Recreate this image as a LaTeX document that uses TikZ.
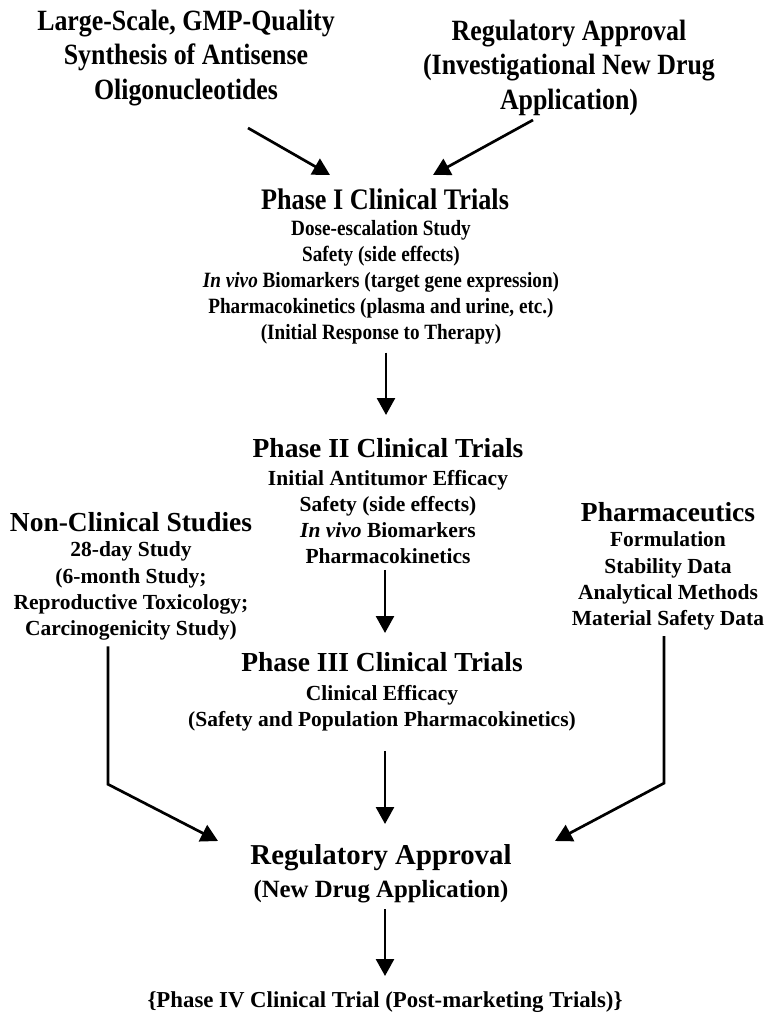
\documentclass[tikz,border=0pt]{standalone}
\usepackage{fontspec}
\setmainfont{Liberation Serif}
\newfontfamily\condensed{Liberation Serif}[FakeStretch=0.88]
\usetikzlibrary{arrows.meta}

\begin{document}
\begin{tikzpicture}[x=1pt,y=-1pt,
  every node/.style={inner sep=0pt,outer sep=0pt,align=center,anchor=north},
  toptext/.style={font=\condensed\fontsize{29.4}{34.5}\selectfont\bfseries},
  title/.style={font=\fontsize{27.5}{34}\selectfont\bfseries},
  body/.style={font=\fontsize{21.5}{26.2}\selectfont\bfseries},
  condtitle/.style={font=\condensed\fontsize{29.8}{34}\selectfont\bfseries},
  condbody/.style={font=\condensed\fontsize{21.8}{26.2}\selectfont\bfseries},
  flow/.style={line width=2.7pt,-{Triangle[length=17pt,width=18pt]}}]
\useasboundingbox (0,0) rectangle (765,1017);

% inputs to the first clinical phase
\node[toptext] (synth) at (186,10) {Large-Scale, GMP-Quality\\Synthesis of Antisense\\Oligonucleotides};
\node[toptext] (ind) at (569,20) {Regulatory Approval\\(Investigational New Drug\\Application)};

% clinical phases
\node[condtitle] (p1title) at (385,189) {Phase I Clinical Trials};
\node[condbody] (p1body) at (381,220) {Dose-escalation Study\\Safety (side effects)\\\textit{In vivo} Biomarkers (target gene expression)\\Pharmacokinetics (plasma and urine, etc.)\\(Initial Response to Therapy)};

\node[title] (p2title) at (388,438) {Phase II Clinical Trials};
\node[body] (p2body) at (388,470) {Initial Antitumor Efficacy\\Safety (side effects)\\\textit{In vivo} Biomarkers\\Pharmacokinetics};

\node[title] (p3title) at (382,652) {Phase III Clinical Trials};
\node[body] (p3body) at (382,685) {Clinical Efficacy\\(Safety and Population Pharmacokinetics)};

% side studies
\node[title] (nctitle) at (131,512) {Non-Clinical Studies};
\node[body] (ncbody) at (131,542) {28-day Study\\(6-month Study;\\Reproductive Toxicology;\\Carcinogenicity Study)};

\node[title] (phtitle) at (668,502) {Pharmaceutics};
\node[body] (phbody) at (668,532) {Formulation\\Stability Data\\Analytical Methods\\Material Safety Data};

% approval and post-marketing
\node[font=\fontsize{28.8}{33}\selectfont\bfseries] (nda) at (381,845) {Regulatory Approval\\\fontsize{24.8}{33}\selectfont(New Drug Application)};
\node[font=\fontsize{22.8}{28}\selectfont\bfseries] (p4) at (385,992) {\{Phase IV Clinical Trial (Post-marketing Trials)\}};

% connectors
\draw[flow] ([shift={(62,118)}]synth.north) -- ([shift={(-55,-14)}]p1title.north);
\draw[flow] ([shift={(-36,100)}]ind.north) -- ([shift={(48,-14)}]p1title.north);
\draw[flow] ([shift={(5,8)}]p1body.south) -- ([shift={(-2,-23)}]p2title.north);
\draw[flow] ([shift={(-3,6)}]p2body.south) -- ([shift={(3,-19)}]p3title.north);
\draw[flow] ([shift={(3,20)}]p3body.south) -- ([shift={(4,-21)}]nda.north);
\draw[flow] ([shift={(-23,6)}]ncbody.south) -- ++(0,138) -- ([shift={(-163,-4)}]nda.north);
\draw[flow] ([shift={(-4,6)}]phbody.south) -- ++(0,147) -- ([shift={(174,-4)}]nda.north);
\draw[flow] ([shift={(4,6)}]nda.south) -- ([shift={(0,-16)}]p4.north);
\end{tikzpicture}
\end{document}
